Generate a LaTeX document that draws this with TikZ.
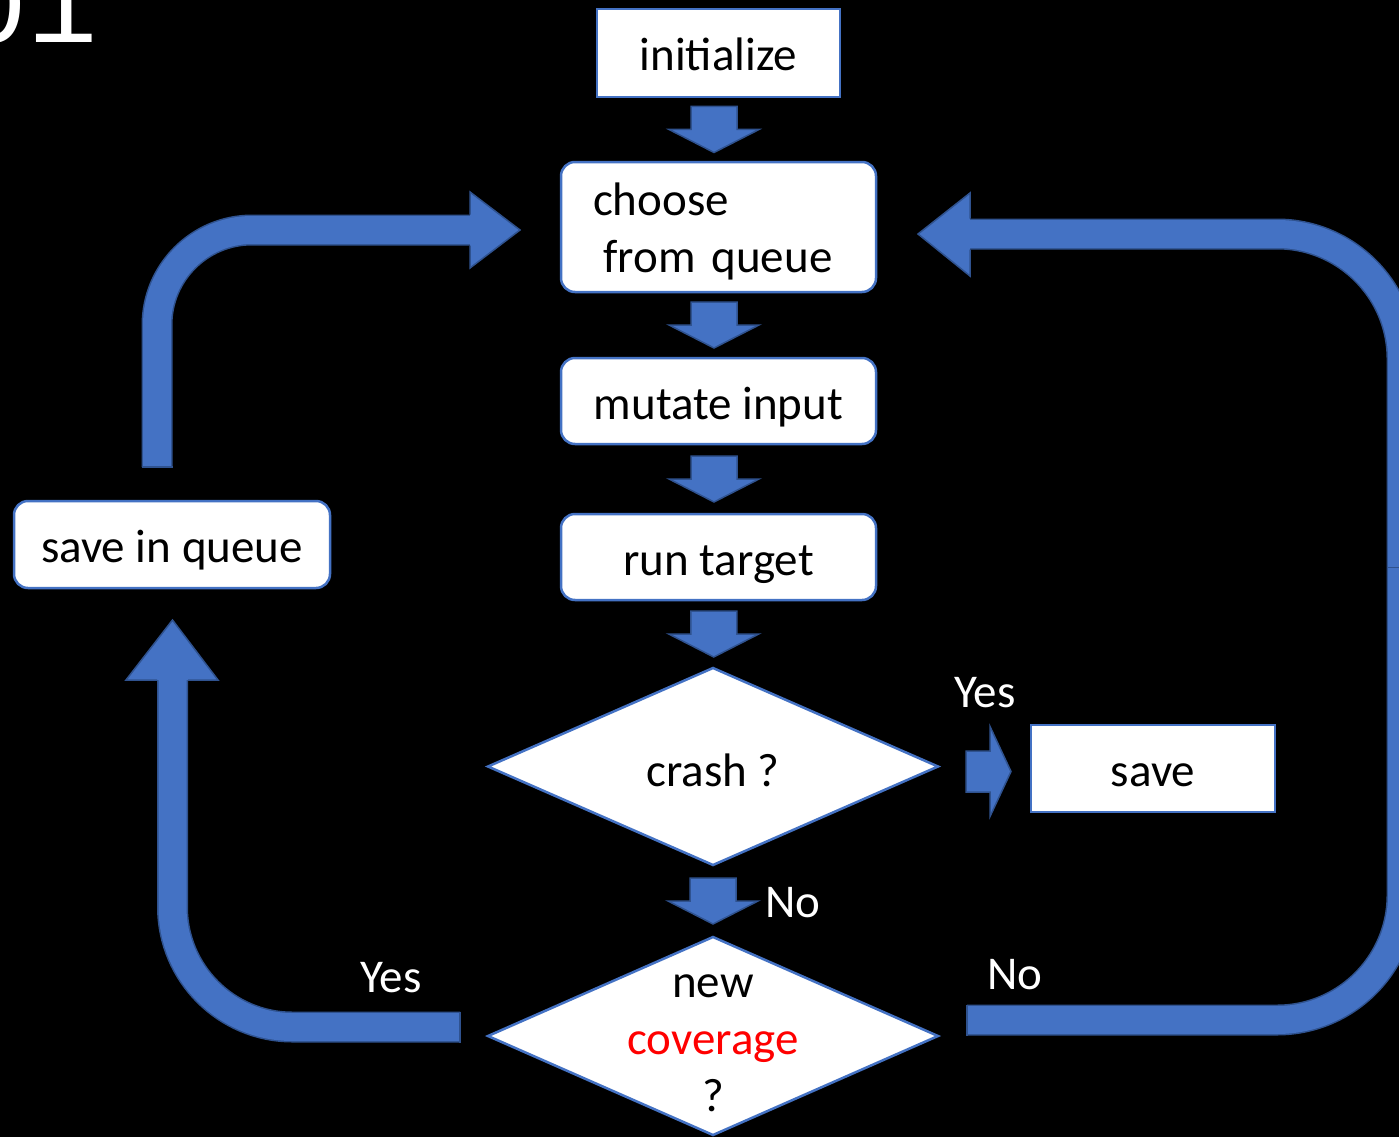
\documentclass[tikz,border=0pt]{standalone}
\usepackage{fontspec}
\setmainfont{Carlito}
\newfontfamily\monofont{Liberation Mono}
\usetikzlibrary{shapes.geometric,calc}
\definecolor{afill}{HTML}{4472C4}
\definecolor{aline}{HTML}{2F528F}
\definecolor{bline}{HTML}{4472C4}
\tikzset{
  txt/.style={font=\fontsize{47}{57}\selectfont},
  box/.style={txt, draw=bline, fill=white, line width=2.5, inner sep=0, outer sep=0, text=black},
  oneline/.style={text height=36, text depth=0},
  rbox/.style={box, rounded corners=14},
  dia/.style={diamond, draw=bline, fill=white, line width=2.5, minimum width=450, minimum height=197, inner sep=0, outer sep=0},
  lbl/.style={txt, text=white, inner sep=0},
  arrowshape/.style={fill=afill, draw=aline, line width=1.5, line join=miter},
  downarr/.pic={\filldraw[arrowshape] (-23,-23) -- (23,-23) -- (23,0) -- (45,0) -- (0,23) -- (-45,0) -- (-23,0) -- cycle;},
  rightarr/.pic={\filldraw[arrowshape] (-22.5,-20.5) -- (1.5,-20.5) -- (1.5,-45) -- (22.5,0) -- (1.5,45) -- (1.5,20.5) -- (-22.5,20.5) -- cycle;},
  bandout/.style={draw=aline, line width=31},
  bandin/.style={draw=afill, line width=28},
  capline/.style={draw=aline, line width=1.5}
}
\begin{document}
\begin{tikzpicture}[x=1pt,y=-1pt]
\useasboundingbox (0,0) rectangle (1399,1137);
\clip (0,0) rectangle (1399,1137);
\fill[black] (0,0) rectangle (1399,1137);

\node[font=\monofont\fontsize{117}{117}\selectfont, text=white, anchor=base west, inner sep=0] (num) at (-43,43) {01};

% boxes
\node[box, oneline, minimum width=243, minimum height=88] (init) at (718.5,53) {initialize};
\node[rbox, minimum width=315, minimum height=130, text width=251, align=left, inner xsep=32] (choose) at (718.5,227) {\rule{0pt}{42pt}choose\\\hspace*{0.226em}from queue};
\node[rbox, oneline, minimum width=315, minimum height=86] (mutate) at (718.5,401) {mutate input};
\node[rbox, oneline, minimum width=315, minimum height=86] (run) at (718.5,557) {run target};
\node[rbox, oneline, minimum width=316, minimum height=87] (saveq) at (172,544.5) {save in queue};
\node[box, oneline, minimum width=244, minimum height=87] (save) at (1153,768.5) {save};
\node[dia] (crash) at (713,766.5) {};
\node[txt, oneline, text=black, inner sep=0] (crashtxt) at ($(crash.center)+(0,2)$) {crash ?};
\node[dia, minimum height=198] (cov) at (713,1036) {};
\node[txt, text=black, inner sep=0, align=center] (covtxt) at (cov.center) {\rule{0pt}{37pt}new\\\textcolor{red}{coverage}\\?};

% straight block arrows
\pic at ($(init.south)!.5!(choose.north)+(-4.5,0)$) {downarr};
\pic at ($(choose.south)!.5!(mutate.north)+(-4.5,0)$) {downarr};
\pic at ($(mutate.south)!.5!(run.north)+(-4.5,0)$) {downarr};
\pic at ($(run.south)!.5!(crash.north)+(-2,0)$) {downarr};
\pic at ($(crash.south)!.5!(cov.north)$) {downarr};
\pic at ($(crash.east)!.5!(save.west)+(4,4)$) {rightarr};

% loop coordinates
\coordinate (blA) at ($(cov.west)+(-28,-9)$);
\coordinate (blB) at ($(saveq.south)+(0.5,92)$);
\coordinate (tlA) at ($(saveq.north)+(-15,-34)$);
\coordinate (tlB) at ($(choose.west)+(-91,3)$);
\coordinate (rA) at ($(cov.east)+(29,-16)$);
\coordinate (rB) at ($(choose.east)+(94,7)$);

% bottom-left loop (Yes -> save in queue)
\draw[bandout, rounded corners=120] (blA) -- (blA -| blB) -- (blB);
\draw[bandin, rounded corners=120] (blA) -- (blA -| blB) -- (blB);
\filldraw[fill=afill, draw=none] ($(blB)+(-15.5,0)$) -- ($(blB)+(-46.5,0)$) -- ($(blB)+(0,-60)$) -- ($(blB)+(45.5,0)$) -- ($(blB)+(15.5,0)$) -- cycle;
\draw[capline, line join=miter] ($(blB)+(-15.5,0)$) -- ($(blB)+(-46.5,0)$) -- ($(blB)+(0,-60)$) -- ($(blB)+(45.5,0)$) -- ($(blB)+(15.5,0)$);
\draw[capline] ($(blA)+(0,-15.5)$) -- ($(blA)+(0,15.5)$);

% top-left loop (save in queue -> choose)
\draw[bandout, rounded corners=95] (tlA) -- (tlA |- tlB) -- (tlB);
\draw[bandin, rounded corners=95] (tlA) -- (tlA |- tlB) -- (tlB);
\fill[afill] ($(tlB)+(0,-15.5)$) -- ($(tlB)+(0,-38)$) -- ($(tlB)+(50,0)$) -- ($(tlB)+(0,38)$) -- ($(tlB)+(0,15.5)$) -- cycle;
\draw[capline, line join=miter] ($(tlB)+(0,-15.5)$) -- ($(tlB)+(0,-38)$) -- ($(tlB)+(50,0)$) -- ($(tlB)+(0,38)$) -- ($(tlB)+(0,15.5)$);
\draw[capline] ($(tlA)+(-15.5,0)$) -- ($(tlA)+(15.5,0)$);

% right loop (No -> choose)
\coordinate (rC) at (1402,0);
\draw[bandout, rounded corners=125] (rA) -- (rA -| rC) -- (rB -| rC) -- (rB);
\draw[bandin, rounded corners=125] (rA) -- (rA -| rC) -- (rB -| rC) -- (rB);
\fill[afill] ($(rB)+(0,-15.5)$) -- ($(rB)+(0,-41)$) -- ($(rB)+(-52,0)$) -- ($(rB)+(0,42)$) -- ($(rB)+(0,15.5)$) -- cycle;
\draw[capline, line join=miter] ($(rB)+(0,-15.5)$) -- ($(rB)+(0,-41)$) -- ($(rB)+(-52,0)$) -- ($(rB)+(0,42)$) -- ($(rB)+(0,15.5)$);
\draw[capline] ($(rA)+(0,-15.5)$) -- ($(rA)+(0,15.5)$);
\draw[draw=aline, line width=1] (1387,567) -- (1417,567);

% labels
\node[lbl] (yes1) at (985,693) {Yes};
\node[lbl] (no1) at (793,903) {No};
\node[lbl] (no2) at (1015,975) {No};
\node[lbl] (yes2) at (391,978) {Yes};
\end{tikzpicture}
\end{document}
